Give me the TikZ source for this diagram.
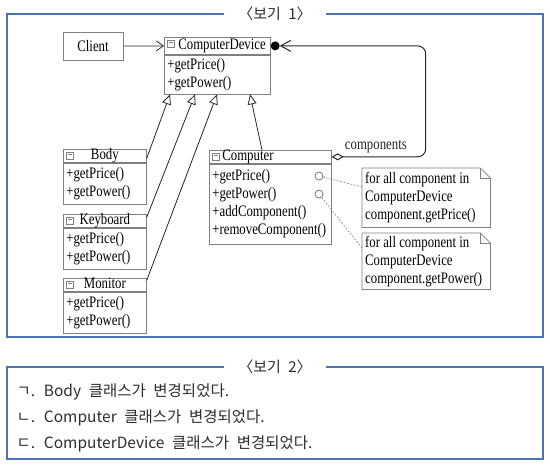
\documentclass[tikz,border=0pt]{standalone}
\usepackage{fontspec}
\setmainfont{Liberation Serif}
\newfontfamily\umlfont[FakeStretch=0.8]{Liberation Serif}
\newfontfamily\krfont[WordSpace=2.2]{Noto Sans CJK KR}
\usetikzlibrary{arrows.meta}
\definecolor{frameblue}{RGB}{74,118,181}
\definecolor{boxgray}{RGB}{128,128,128}
\definecolor{krgray}{RGB}{45,45,45}
\newcommand\classicon[1]{%
  \draw[boxgray,line width=0.6pt] ([xshift=3pt,yshift=-3pt]#1.north west) rectangle ++(7,7);
  \draw[boxgray,line width=0.6pt] ([xshift=4.5pt,yshift=-5.5pt]#1.north west) -- ++(4,0);}
\newcommand\notebox[1]{%
  \draw[boxgray,line width=0.7pt] (#1.north west) -- ([xshift=-10pt]#1.north east) -- ([yshift=-10pt]#1.north east) -- (#1.south east) -- (#1.south west) -- cycle;
  \draw[boxgray,line width=0.7pt] ([xshift=-10pt]#1.north east) |- ([yshift=-10pt]#1.north east);}
\begin{document}
\begin{tikzpicture}[x=1pt,y=-1pt,
 uml/.style={font=\umlfont\fontsize{16}{18}\selectfont},
 head/.style={uml,draw=boxgray,line width=0.7pt,anchor=north west,inner sep=0pt,minimum height=13pt,text height=10pt,text depth=3pt,text width=83pt,align=center},
 ops/.style={uml,draw=boxgray,line width=0.7pt,anchor=north,inner xsep=3pt,inner ysep=0pt,text width=77pt,align=flush left,minimum height=41pt},
 gen/.style={draw=black!85,line width=0.8pt,-{Triangle[open,length=10pt,width=9pt]}},
 note/.style={uml,anchor=north west,inner xsep=3pt,inner ysep=0pt,text width=122pt,align=flush left,minimum height=59pt},
 port/.style={circle,draw=black!60,line width=0.7pt,minimum size=8pt,inner sep=0pt},
 frame/.style={draw=frameblue,line width=1.5pt},
 boxtitle/.style={fill=white,minimum width=102pt,font=\krfont\fontsize{15}{17}\selectfont,text=krgray},
 item/.style={anchor=west,font=\krfont\fontsize{15.5}{17}\selectfont,text=krgray}]
\useasboundingbox (0,0) rectangle (550,466);
\draw[frame] (7,14) rectangle (543,337);
\node[boxtitle] (T1) at (275,14) {〈보기 1〉};
\draw[frame] (7,367) rectangle (543,459);
\node[boxtitle] (T2) at (275,367) {〈보기 2〉};

\node[uml,draw=boxgray,line width=0.7pt,minimum width=60pt,minimum height=28pt] (Client) at (93,46) {Client};
\node[head,text width=106pt,align=left,minimum height=17pt] (CD) at (164,37) {\hspace*{14pt}ComputerDevice};
\node[ops,text width=100pt,minimum height=39pt] (CDops) at (CD.south) {+getPrice()\\+getPower()};
\node[head] (Body) at (63,149) {Body};
\node[ops] (BodyOps) at (Body.south) {+getPrice()\\+getPower()};
\node[head] (Kbd) at (63,214) {Keyboard};
\node[ops] (KbdOps) at (Kbd.south) {+getPrice()\\+getPower()};
\node[head] (Mon) at (63,278) {Monitor};
\node[ops] (MonOps) at (Mon.south) {+getPrice()\\+getPower()};
\node[head,text width=122pt,align=left] (Comp) at (209,150) {\hspace*{13pt}Computer};
\node[ops,text width=116pt,minimum height=80pt] (CompOps) at (Comp.south) {+getPrice()\\+getPower()\\+addComponent()\\+removeComponent()};
\classicon{CD}
\classicon{Body}
\classicon{Kbd}
\classicon{Mon}
\classicon{Comp}

\node[port] (P1) at (319,176) {};
\node[port] (P2) at (319,194) {};
\node[note] (N1) at (362,168) {for all component in\\ComputerDevice\\component.getPrice()};
\node[note,minimum height=56pt] (N2) at (362,233) {for all component in\\ComputerDevice\\component.getPower()};
\notebox{N1}
\notebox{N2}
\draw[boxgray,line width=0.6pt,dash pattern=on 2pt off 1.5pt] (P1) -- ([yshift=-19pt]N1.north west);
\draw[boxgray,line width=0.6pt,dash pattern=on 2pt off 1.5pt] (P2) -- ([yshift=-15pt]N2.north west);

\draw[black!85,line width=0.8pt,-{Straight Barb[length=7pt,width=10pt]}] (Client) -- (CD);
\draw[gen] ([yshift=-2.5pt]Body.east) -- ([xshift=6pt]CDops.south west);
\draw[gen] ([yshift=3.5pt]Kbd.east) -- ([xshift=31pt]CDops.south west);
\draw[gen] ([yshift=4.5pt]Mon.east) -- ([xshift=53pt]CDops.south west);
\draw[gen] ([xshift=53pt]Comp.north west) -- ([xshift=86pt]CDops.south west);
\draw[black!85,line width=1pt,rounded corners=8pt,{Diamond[open,length=12pt,width=7pt]}-{Straight Barb[length=10pt,width=11pt]},shorten >=9pt] (Comp.east) -- ++(94,0) node[uml,above,pos=0.47] {components} |- (CD.east);
\fill[black] ([xshift=4.5pt]CD.east) circle (4.5pt);

\node[item] (I1) at (13,392) {ㄱ. Body 클래스가 변경되었다.};
\node[item] (I2) at (13,418) {ㄴ. Computer 클래스가 변경되었다.};
\node[item] (I3) at (13,444) {ㄷ. ComputerDevice 클래스가 변경되었다.};
\end{tikzpicture}
\end{document}
